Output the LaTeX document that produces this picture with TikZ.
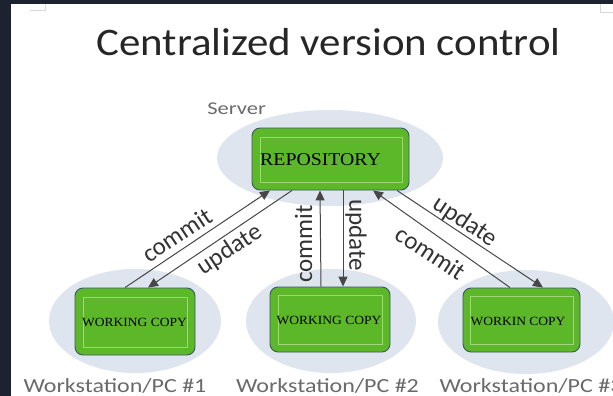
\documentclass[tikz,border=0pt]{standalone}
\usepackage{fontspec}
\setmainfont{Liberation Serif}
\newfontfamily\labfont{Carlito}
\usetikzlibrary{arrows.meta,calc,shapes.geometric}
\definecolor{darkbg}{HTML}{1C2230}
\definecolor{ellfill}{HTML}{DFE5EE}
\definecolor{boxgreen}{HTML}{5DB829}
\definecolor{boxborder}{HTML}{3D5565}
\definecolor{innerline}{HTML}{A3D47A}
\definecolor{arrowgray}{HTML}{474747}
\definecolor{flowtext}{HTML}{333333}
\definecolor{labgray}{HTML}{6A6A6A}
\definecolor{markgray}{HTML}{D8D8D8}
\tikzset{
  cloud/.style={ellipse, fill=ellfill, draw=none, inner sep=0pt},
  greenbox/.style={draw=boxborder, line width=0.9pt, fill=boxgreen, rounded corners=8pt, inner sep=0pt},
  innerbox/.style={draw=innerline, line width=0.6pt, fill=none, inner sep=0pt},
  boxtext/.style={font=\fontsize{12.5}{12.5}\selectfont, text=black, xscale=1.08},
  flow/.style={draw=arrowgray, line width=1pt, -{Triangle[length=10pt,width=9pt]}},
  flowlab/.style={font=\labfont\fontsize{25}{25}\selectfont, text=flowtext, inner sep=0pt},
  wslab/.style={font=\labfont\fontsize{20}{20}\selectfont, text=labgray, inner sep=0pt, anchor=base, xscale=1.2},
}
\begin{document}
\begin{tikzpicture}[x=1pt,y=-1pt]
\useasboundingbox (0,0) rectangle (613,396);
\fill[darkbg] (0,0) rectangle (613,396);
\fill[white] (11,4) rectangle (613,396);
% corner marks
\draw[markgray, line width=0.8pt] (30,10) -- (45,10) -- (45,4);
\draw[markgray, line width=0.8pt] (600,4) -- (600,12) -- (613,12);
% title
\node[font=\labfont\fontsize{39}{39}\selectfont, text=black!85, anchor=base, inner sep=0pt, xscale=1.1] (title) at (328.5,56) {Centralized version control};
% server
\node[cloud, minimum width=226pt, minimum height=96pt] (srv) at (330,158) {};
\node[font=\labfont\fontsize{18}{18}\selectfont, text=labgray, anchor=base west, inner sep=0pt, xscale=1.25] (srvlab) at (207,114) {Server};
\node[greenbox, minimum width=157pt, minimum height=62pt] (repo) at (330.5,159) {};
\node[innerbox, minimum width=142pt, minimum height=45pt] (repoin) at (331,159.5) {};
\node[font=\fontsize{18}{18}\selectfont, text=black, xscale=1.1, anchor=west, inner sep=0pt] (repotxt) at (260,160) {REPOSITORY};
% workstations
\node[cloud, minimum width=172pt, minimum height=104pt] (ws1) at (135,321) {};
\node[cloud, minimum width=170pt, minimum height=104pt] (ws2) at (331,321) {};
\node[cloud, minimum width=176pt, minimum height=104pt] (ws3) at (526,322) {};
\node[greenbox, minimum width=120pt, minimum height=67pt] (wc1) at (135,321.5) {};
\node[innerbox, minimum width=104pt, minimum height=50pt] (wc1in) at (135,322) {};
\node[boxtext] (wc1txt) at (134.5,322) {WORKING COPY};
\node[greenbox, minimum width=120pt, minimum height=65pt] (wc2) at (330,319.5) {};
\node[innerbox, minimum width=104pt, minimum height=49pt] (wc2in) at (330,320) {};
\node[boxtext] (wc2txt) at (329,320) {WORKING COPY};
\node[greenbox, minimum width=117pt, minimum height=64pt] (wc3) at (521.5,320) {};
\node[innerbox, minimum width=103pt, minimum height=48pt] (wc3in) at (521.5,320) {};
\node[boxtext] (wc3txt) at (518,321) {WORKIN COPY};
% labels
\node[wslab] (l1) at (115,392) {Workstation/PC \#1};
\node[wslab] (l2) at (327.5,392) {Workstation/PC \#2};
\node[wslab] (l3) at (531,392) {Workstation/PC \#3};
% arrows
\draw[flow] ([xshift=-10pt]wc1.north) -- ([xshift=-60.5pt]repo.south);
\draw[flow] ([xshift=-38.5pt]repo.south) -- ([xshift=13pt]wc1.north);
\draw[flow] ([xshift=-9pt]wc2.north) -- ([xshift=-10.5pt]repo.south);
\draw[flow] ([xshift=12.5pt]repo.south) -- ([xshift=13pt]wc2.north);
\draw[flow] ([xshift=-11.5pt]wc3.north) -- ([xshift=42.5pt]repo.south);
\draw[flow] ([xshift=66.5pt]repo.south) -- ([xshift=21.5pt]wc3.north);
% arrow labels
\node[flowlab, rotate=33.5] (c1) at (177,235) {commit};
\node[flowlab, rotate=33.5] (u1) at (230,250) {update};
\node[flowlab, rotate=90] (c2) at (303.5,244) {commit};
\node[flowlab, rotate=-90] (u2) at (356,235) {update};
\node[flowlab, rotate=-33.5] (u3) at (465,222) {update};
\node[flowlab, rotate=-33.5] (c3) at (431,253) {commit};
\end{tikzpicture}
\end{document}
